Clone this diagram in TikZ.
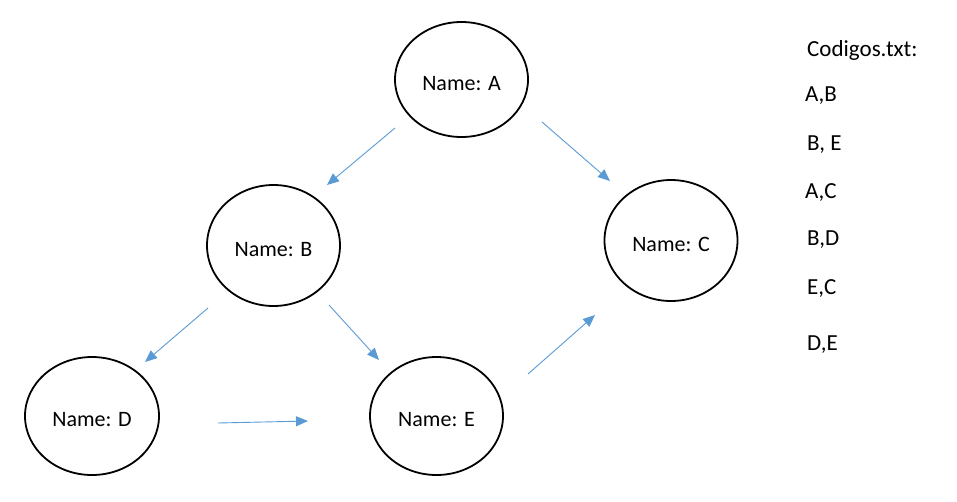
\documentclass[tikz,border=0pt]{standalone}
\usepackage{fontspec}
\setmainfont{Carlito}
\usetikzlibrary{shapes.geometric,arrows.meta}
\definecolor{arrowblue}{RGB}{91,155,213}
\newcommand{\nametext}[1]{\raisebox{-10.5pt}[0pt][0pt]{#1}}
\begin{document}
\begin{tikzpicture}[x=1pt,y=-1pt,
  vertex/.style={draw=black,line width=1.8pt,ellipse,inner sep=0pt,
    minimum width=133pt,minimum height=118pt,font=\fontsize{22}{26}\selectfont},
  link/.style={draw=arrowblue,line width=0.9pt,-{Triangle[length=12pt,width=10pt]}},
  listitem/.style={anchor=base west,inner sep=0pt,font=\fontsize{23}{27}\selectfont}]
\useasboundingbox[fill=white] (0,0) rectangle (957,501);
\node[vertex,minimum height=115pt] (A) at (461.5,79.5) {\nametext{Name: A}};
\node[vertex,minimum height=121pt] (B) at (273.5,245.5) {\nametext{Name: B}};
\node[vertex,minimum height=121pt] (C) at (671,240.5) {\nametext{Name: C}};
\node[vertex,minimum width=134pt] (D) at (92,416) {\nametext{Name: D}};
\node[vertex] (E) at (436.5,416) {\nametext{Name: E}};
\coordinate (ab1) at (395,128); \coordinate (ab2) at (327,185);
\coordinate (ac1) at (542,122); \coordinate (ac2) at (610,181);
\coordinate (bd1) at (208,308); \coordinate (bd2) at (145,362);
\coordinate (be1) at (329,305); \coordinate (be2) at (379,360);
\coordinate (de1) at (218,423); \coordinate (de2) at (308,421);
\coordinate (ec1) at (528,374); \coordinate (ec2) at (595,315);
\draw[link] (ab1) -- (ab2);
\draw[link] (ac1) -- (ac2);
\draw[link] (bd1) -- (bd2);
\draw[link] (be1) -- (be2);
\draw[link] (de1) -- (de2);
\draw[link] (ec1) -- (ec2);
\node[listitem] (t0) at (807,56) {Codigos.txt:};
\node[listitem] (t1) at (805,101.5) {A,B};
\node[listitem] (t2) at (807,150) {B, E};
\node[listitem] (t3) at (805,198) {A,C};
\node[listitem] (t4) at (807,245.5) {B,D};
\node[listitem] (t5) at (807,294) {E,C};
\node[listitem] (t6) at (807,350.5) {D,E};
\end{tikzpicture}
\end{document}
